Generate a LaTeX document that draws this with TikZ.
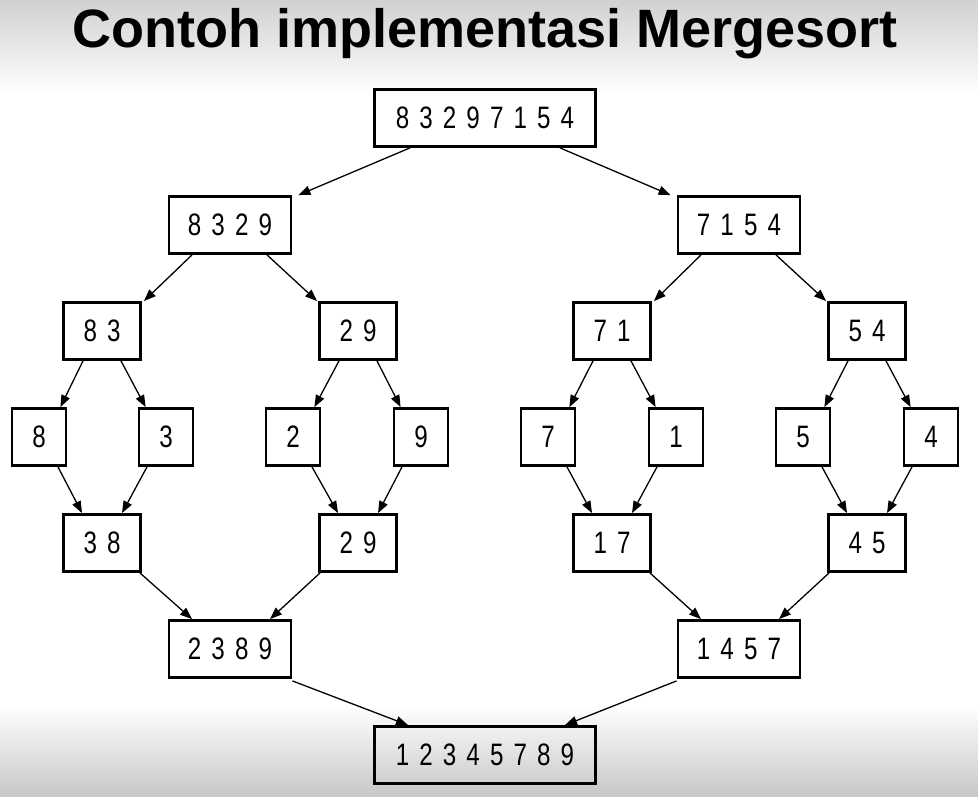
\documentclass[tikz,border=0pt]{standalone}
\usepackage{fontspec}
\setmainfont{Liberation Sans}
\newfontfamily\angka[FakeStretch=0.78,WordSpace=1.5]{Liberation Sans}
\usetikzlibrary{arrows.meta}

\begin{document}
\begin{tikzpicture}[x=1pt,y=-1pt]
\tikzset{kotak/.style={draw, line width=2.8pt, minimum height=57pt, inner sep=0pt, font=\angka\fontsize{31}{31}\selectfont},
panjang/.style={kotak, minimum width=221pt},
sedang/.style={kotak, minimum width=122pt},
kecil/.style={kotak, minimum width=77pt},
daun/.style={kotak, minimum width=54pt},
panah/.style={-{Triangle[length=12pt,width=9pt]}, line width=1.3pt}}
\useasboundingbox (0,0) rectangle (978,797);
\fill[white] (0,0) rectangle (978,797);
\shade[top color=black!18, bottom color=white] (0,0) rectangle (978,95);
\shade[top color=white, bottom color=black!22] (0,705) rectangle (978,797);
\node[anchor=base, font=\bfseries\fontsize{54}{54}\selectfont] (judul) at (485,48) {Contoh implementasi Mergesort};
% pembagian
\node[panjang] (S0) at (485,118) {8 3 2 9 7 1 5 4};
\node[sedang] (S1) at (230,225) {8 3 2 9};
\node[sedang] (S2) at (739,225) {7 1 5 4};
\node[kecil] (S11) at (102,331) {8 3};
\node[kecil] (S12) at (358,331) {2 9};
\node[kecil] (S21) at (612,331) {7 1};
\node[kecil] (S22) at (867,331) {5 4};
\node[daun] (D1) at (39,437) {8};
\node[daun] (D2) at (166,437) {3};
\node[daun] (D3) at (293,437) {2};
\node[daun] (D4) at (421,437) {9};
\node[daun] (D5) at (548,437) {7};
\node[daun] (D6) at (676,437) {1};
\node[daun] (D7) at (803,437) {5};
\node[daun] (D8) at (931,437) {4};
% penggabungan
\node[kecil] (M11) at (102,543) {3 8};
\node[kecil] (M12) at (358,543) {2 9};
\node[kecil] (M21) at (612,543) {1 7};
\node[kecil] (M22) at (867,543) {4 5};
\node[sedang] (M1) at (230,649) {2 3 8 9};
\node[sedang] (M2) at (739,649) {1 4 5 7};
\node[panjang] (M0) at (485,755) {1 2 3 4 5 7 8 9};
\draw[panah] ([xshift=-75pt]S0.south) -- ([xshift=6pt]S1.north east);
\draw[panah] ([xshift=75pt]S0.south) -- ([xshift=-6pt]S2.north west);
\draw[panah] ([xshift=-38pt]S1.south) -- ([xshift=2pt]S11.north east);
\draw[panah] ([xshift=37pt]S1.south) -- ([xshift=-1pt]S12.north west);
\draw[panah] ([xshift=-38pt]S2.south) -- ([xshift=2pt]S21.north east);
\draw[panah] ([xshift=37pt]S2.south) -- ([xshift=-1pt]S22.north west);
\draw[panah] ([xshift=-19pt]S11.south) -- ([xshift=-7pt]D1.north east);
\draw[panah] ([xshift=19pt]S11.south) -- ([xshift=8pt]D2.north west);
\draw[panah] ([xshift=-19pt]S12.south) -- ([xshift=-7pt]D3.north east);
\draw[panah] ([xshift=19pt]S12.south) -- ([xshift=8pt]D4.north west);
\draw[panah] ([xshift=-19pt]S21.south) -- ([xshift=-7pt]D5.north east);
\draw[panah] ([xshift=19pt]S21.south) -- ([xshift=8pt]D6.north west);
\draw[panah] ([xshift=-19pt]S22.south) -- ([xshift=-7pt]D7.north east);
\draw[panah] ([xshift=19pt]S22.south) -- ([xshift=8pt]D8.north west);
\draw[panah] ([xshift=19pt]D1.south) -- ([xshift=-20pt]M11.north);
\draw[panah] ([xshift=-19pt]D2.south) -- ([xshift=20pt]M11.north);
\draw[panah] ([xshift=19pt]D3.south) -- ([xshift=-20pt]M12.north);
\draw[panah] ([xshift=-19pt]D4.south) -- ([xshift=20pt]M12.north);
\draw[panah] ([xshift=19pt]D5.south) -- ([xshift=-20pt]M21.north);
\draw[panah] ([xshift=-19pt]D6.south) -- ([xshift=20pt]M21.north);
\draw[panah] ([xshift=19pt]D7.south) -- ([xshift=-20pt]M22.north);
\draw[panah] ([xshift=-19pt]D8.south) -- ([xshift=20pt]M22.north);
\draw[panah] ([xshift=-2pt]M11.south east) -- ([xshift=-38pt]M1.north);
\draw[panah] ([xshift=2pt]M12.south west) -- ([xshift=40pt]M1.north);
\draw[panah] ([xshift=-2pt]M21.south east) -- ([xshift=-38pt]M2.north);
\draw[panah] ([xshift=2pt]M22.south west) -- ([xshift=40pt]M2.north);
\draw[panah] ([yshift=-2pt]M1.south east) -- ([xshift=-77pt]M0.north);
\draw[panah] ([yshift=-2pt]M2.south west) -- ([xshift=80pt]M0.north);
\end{tikzpicture}
\end{document}
